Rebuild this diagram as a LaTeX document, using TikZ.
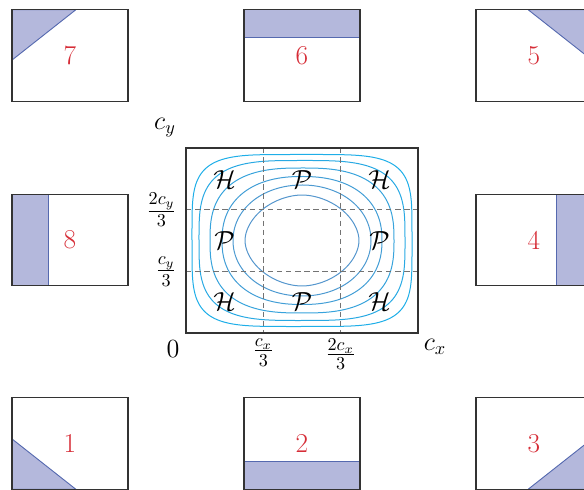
\documentclass[tikz,border=0pt]{standalone}
\usepackage{xcolor}
\usepackage{tikz}
\usetikzlibrary{positioning,calc,backgrounds}

\definecolor{tileblue}{RGB}{180,184,220}
\definecolor{tileedge}{RGB}{85,105,175}
\definecolor{tilered}{RGB}{214,45,55}
\definecolor{lvlout}{RGB}{30,174,232}
\definecolor{lvlin}{RGB}{85,150,205}

\begin{document}
\begin{tikzpicture}[
        x=0.55pt, y=-0.55pt,
        tile/.style={
            draw=black!80,
            line width=0.6pt,
            minimum width=63.8pt,
            minimum height=50.3pt,
            inner sep=0pt,
            outer sep=0pt,
            text=tilered,
            font=\fontsize{15}{18}\selectfont
        },
        part/.style={fill=tileblue, draw=tileedge, line width=0.5pt},
        axes/.style={
            draw=black!80,
            line width=0.6pt,
            minimum width=127.6pt,
            minimum height=101.75pt,
            inner sep=0pt,
            outer sep=0pt
        },
        guide/.style={black!55, line width=0.5pt, dash pattern=on 3pt off 2pt},
        level/.style={line width=0.55pt},
        lbl/.style={font=\Large, inner sep=1pt},
        zone/.style={font=\Large}
    ]
        \useasboundingbox (0,0) rectangle (584,490);
        \clip (0,0) rectangle (584,490);

        % the eight boundary tiles
        \node[tile] (t7) at (70,55.5) {7};
        \node[tile, right=63.8pt of t7] (t6) {6};
        \node[tile, right=63.8pt of t6] (t5) {5};
        \node[tile, below=51.2pt of t7] (t8) {8};
        \node[tile, below=51.2pt of t5] (t4) {4};
        \node[tile, below=61.6pt of t8] (t1) {1};
        \node[tile, right=63.8pt of t1] (t2) {2};
        \node[tile, right=63.8pt of t2] (t3) {3};

        \begin{scope}[on background layer]
            \path[part] (t7.north west) -- ($(t7.north west)!0.55!(t7.north east)$)
                -- ($(t7.north west)!0.55!(t7.south west)$) -- cycle;
            \path[part] (t6.north west) rectangle ($(t6.north east)!0.3!(t6.south east)$);
            \path[part] (t5.north east) -- ($(t5.north east)!0.55!(t5.north west)$)
                -- ($(t5.north east)!0.55!(t5.south east)$) -- cycle;
            \path[part] (t8.north west) rectangle ($(t8.south west)!0.31!(t8.south east)$);
            \path[part] ($(t4.north west)!0.69!(t4.north east)$) rectangle (t4.south east);
            \path[part] (t1.south west) -- ($(t1.south west)!0.55!(t1.north west)$)
                -- ($(t1.south west)!0.55!(t1.south east)$) -- cycle;
            \path[part] ($(t2.south west)!0.3!(t2.north west)$) rectangle (t2.south east);
            \path[part] (t3.south east) -- ($(t3.south east)!0.55!(t3.north east)$)
                -- ($(t3.south east)!0.55!(t3.south west)$) -- cycle;
        \end{scope}

        % centre plot
        \node[axes] (box) at (302,240.5) {};

        \begin{scope}[shift={(box.center)}]
            \foreach \a/\b/\n/\p in {110/86/4.5/100, 103/80/3.4/80, 92/72.5/2.7/55,
                                     80/64/2.3/35, 69/55.5/2.05/15, 57/45.5/1.85/0}
                \draw[level, lvlout!\p!lvlin] plot[domain=0.5:357.5, samples=120, smooth cycle]
                    ({\a*cos(\x)/abs(cos(\x))*abs(cos(\x))^(2/\n)},
                     {\b*sin(\x)/abs(sin(\x))*abs(sin(\x))^(2/\n)});
        \end{scope}

        \coordinate (v1n) at ($(box.north west)!1/3!(box.north east)$);
        \coordinate (v1s) at ($(box.south west)!1/3!(box.south east)$);
        \coordinate (v2n) at ($(box.north west)!2/3!(box.north east)$);
        \coordinate (v2s) at ($(box.south west)!2/3!(box.south east)$);
        \coordinate (h2w) at ($(box.north west)!1/3!(box.south west)$);
        \coordinate (h2e) at ($(box.north east)!1/3!(box.south east)$);
        \coordinate (h1w) at ($(box.north west)!2/3!(box.south west)$);
        \coordinate (h1e) at ($(box.north east)!2/3!(box.south east)$);

        \draw[guide] (v1n) -- (v1s);
        \draw[guide] (v2n) -- (v2s);
        \draw[guide] (h2w) -- (h2e);
        \draw[guide] (h1w) -- (h1e);
        \node[axes] at (box.center) {};

        % axis labels
        \node[lbl] (cy) at ($(box.north west)+(-21,-20)$) {$c_y$};
        \node[lbl] (zero) at ($(box.south west)+(-13,16)$) {$0$};
        \node[lbl] (cx) at ($(box.south east)+(17,14)$) {$c_x$};
        \node[lbl, below=2pt of v1s] (cx1) {$\frac{c_x}{3}$};
        \node[lbl, below=2pt of v2s] (cx2) {$\frac{2c_x}{3}$};
        \node[lbl, left=4pt of h1w] (cy1) {$\frac{c_y}{3}$};
        \node[lbl, left=4pt of h2w] (cy2) {$\frac{2c_y}{3}$};

        % regions
        \node[zone] (zNW) at ($(box.center)+(-77.5,-61)$) {$\mathcal{H}$};
        \node[zone] (zN)  at ($(box.center)+(0,-61)$)     {$\mathcal{P}$};
        \node[zone] (zNE) at ($(box.center)+(77.5,-61)$)  {$\mathcal{H}$};
        \node[zone] (zW)  at ($(box.center)+(-77.5,0)$)   {$\mathcal{P}$};
        \node[zone] (zE)  at ($(box.center)+(77.5,0)$)    {$\mathcal{P}$};
        \node[zone] (zSW) at ($(box.center)+(-77.5,61)$)  {$\mathcal{H}$};
        \node[zone] (zS)  at ($(box.center)+(0,61)$)      {$\mathcal{P}$};
        \node[zone] (zSE) at ($(box.center)+(77.5,61)$)   {$\mathcal{H}$};
    \end{tikzpicture}
\end{document}
